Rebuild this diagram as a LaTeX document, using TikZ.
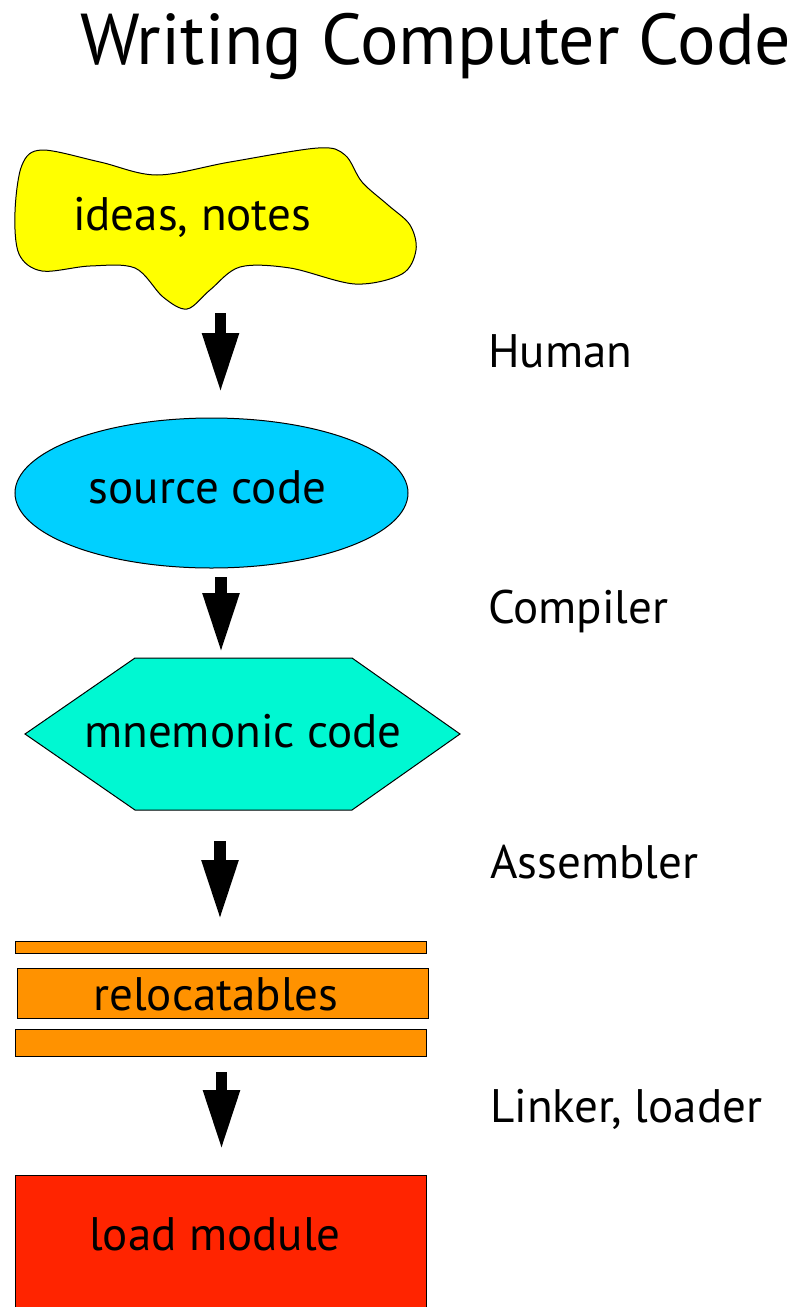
\documentclass[tikz,border=0pt]{standalone}
\usepackage{fontspec}
\setmainfont{PT Sans}
\usetikzlibrary{arrows.meta}
\definecolor{cloudY}{HTML}{FFFF00}
\definecolor{srcC}{HTML}{00D0FF}
\definecolor{mnemC}{HTML}{00F8D2}
\definecolor{relC}{HTML}{FF9200}
\definecolor{loadC}{HTML}{FF2400}
\begin{document}
\begin{tikzpicture}[x=1pt,y=-1pt,
  lbl/.style={font=\fontsize{47}{56}\selectfont, inner sep=0pt, anchor=base},
  side/.style={lbl, anchor=base west},
  outline/.style={draw=black, line width=1pt},
  flow/.style={line width=11.5pt, -{Triangle[width=34pt,length=60pt]}},
]
\useasboundingbox (0,0) rectangle (801,1307);
\clip (0,0) rectangle (801,1307);

% title
\node[lbl, anchor=base west, font=\fontsize{72}{80}\selectfont] (title) at (80,64) {Writing Computer Code};

% cloud
\draw[outline, fill=cloudY] plot[smooth cycle, tension=0.55] coordinates {
  (15,212) (22,165) (42,150) (100,162) (157,175) (230,162) (318,148) (345,155)
  (362,182) (388,205) (410,225) (416,250) (402,274) (355,284) (290,268) (240,267)
  (210,290) (187,309) (163,297) (135,268) (90,266) (42,271) (19,254)};
\node[lbl] (ideas) at (192,230) {ideas, notes};

% ellipse
\draw[outline, fill=srcC] (211.5,493) ellipse [x radius=196.5, y radius=75];
\node[lbl] (src) at (207.5,503) {source code};

% hexagon
\draw[outline, fill=mnemC] (25,734) -- (135,658) -- (352,658) -- (460,734) -- (352,810) -- (135,810) -- cycle;
\node[lbl] (mnem) at (243,747) {mnemonic code};

% relocatables
\draw[outline, fill=relC] (15,941) rectangle (426,953);
\draw[outline, fill=relC] (17,968) rectangle (428,1018);
\draw[outline, fill=relC] (15,1029) rectangle (426,1056);
\node[lbl] (reloc) at (216,1010) {relocatables};

% load module
\draw[outline, fill=loadC] (15,1175) rectangle (426,1320);
\node[lbl] (load) at (215,1250) {load module};

% arrows
\coordinate (a1s) at (220.5,313); \coordinate (a1e) at (220.5,393);
\coordinate (a2s) at (221,577);   \coordinate (a2e) at (221,653);
\coordinate (a3s) at (220,841);   \coordinate (a3e) at (220,920);
\coordinate (a4s) at (221.5,1072);\coordinate (a4e) at (221.5,1150);
\draw[flow] (a1s) -- (a1e);
\draw[flow] (a2s) -- (a2e);
\draw[flow] (a3s) -- (a3e);
\draw[flow] (a4s) -- (a4e);

% side labels
\node[side] (human) at (488,367) {Human};
\node[side] (comp) at (488,623) {Compiler};
\node[side] (asm) at (490,878) {Assembler};
\node[side] (link) at (490,1122) {Linker, loader};
\end{tikzpicture}
\end{document}
